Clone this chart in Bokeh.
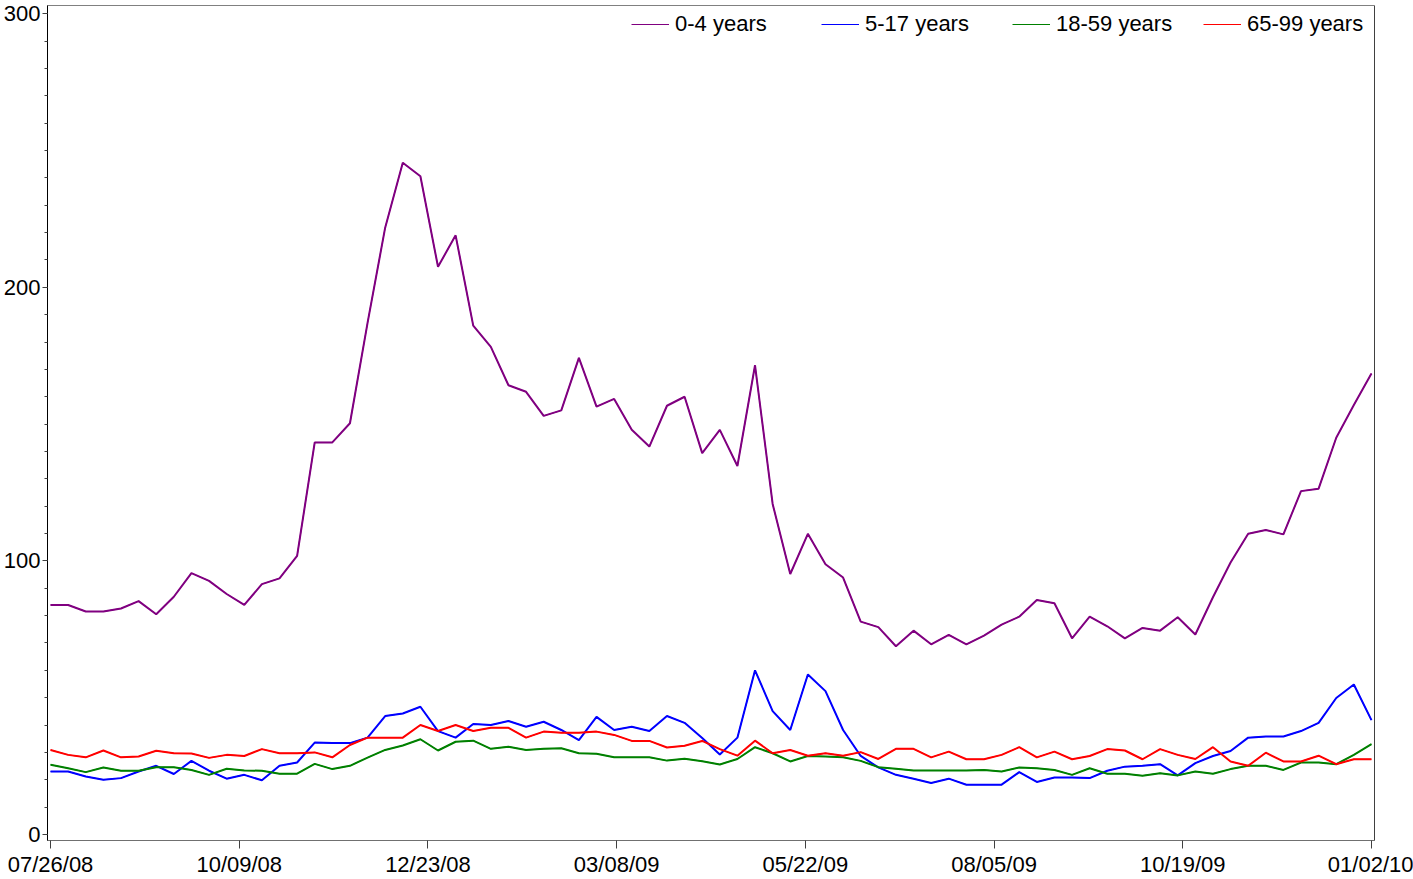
import pandas as pd
from bokeh.plotting import figure
from bokeh.models import (FixedTicker, DatetimeTickFormatter, Legend, LegendItem,
                          Range1d, Span, ColumnDataSource)
from bokeh.embed import file_html
from bokeh.resources import INLINE

# ---------------- data ----------------
first_week = "2008-07-26"
n_weeks = 76
tick_labels = ["07/26/08", "10/09/08", "12/23/08", "03/08/09", "05/22/09",
               "08/05/09", "10/19/09", "01/02/10"]
y_ticks = [0, 100, 200, 300]
y_minor_ticks = list(range(0, 301, 10))

series_names = ["0-4 years", "5-17 years", "18-59 years", "65-99 years"]
series_colors = ["#800080", "#0000FF", "#008000", "#FF0000"]

age_0_4 = [83.9, 83.9, 81.5, 81.5, 82.6, 85.3, 80.5, 86.9, 95.5, 92.7,
           87.9, 83.9, 91.5, 93.6, 101.8, 143.3, 143.3, 150.3, 187.0, 221.8,
           245.5, 240.6, 207.5, 219.0, 186.0, 178.2, 164.2, 161.8, 153.0, 155.0,
           174.2, 156.4, 159.2, 147.9, 141.8, 156.7, 160.0, 139.4, 147.9, 134.7,
           171.5, 120.8, 95.2, 109.9, 98.8, 93.9, 77.8, 75.8, 68.8, 74.5,
           69.5, 73.0, 69.5, 72.7, 76.7, 79.6, 85.7, 84.5, 71.7, 79.6,
           76.1, 71.7, 75.5, 74.5, 79.4, 73.1, 86.7, 99.4, 109.9, 111.3,
           109.7, 125.5, 126.4, 145.0, 157.0, 168.5]

age_5_17 = [23.0, 23.0, 21.2, 20.0, 20.6, 23.0, 25.1, 22.1, 26.9, 23.3,
            20.4, 21.8, 19.8, 25.1, 26.3, 33.6, 33.4, 33.4, 35.4, 43.3,
            44.2, 46.7, 37.8, 35.4, 40.4, 40.0, 41.5, 39.4, 41.2, 38.2,
            34.5, 43.0, 38.2, 39.4, 37.8, 43.3, 40.8, 35.3, 29.2, 35.4,
            60.0, 45.1, 38.2, 58.5, 52.4, 38.2, 28.7, 24.5, 21.8, 20.4,
            18.8, 20.4, 18.2, 18.2, 18.2, 22.8, 19.2, 20.8, 20.8, 20.6,
            23.3, 24.8, 25.1, 25.7, 21.6, 26.1, 28.7, 30.5, 35.4, 35.8,
            35.8, 37.8, 40.8, 49.9, 54.8, 41.8]

age_18_59 = [25.5, 24.2, 22.8, 24.5, 23.3, 23.3, 24.6, 24.6, 23.6, 21.8,
             24.0, 23.4, 23.3, 22.2, 22.2, 25.8, 23.9, 25.1, 28.1, 30.9,
             32.5, 34.8, 30.7, 33.9, 34.3, 31.3, 32.1, 30.9, 31.3, 31.5,
             29.7, 29.5, 28.2, 28.2, 28.2, 27.0, 27.7, 26.8, 25.6, 27.6,
             31.9, 29.7, 26.7, 28.7, 28.5, 28.2, 26.9, 24.6, 24.0, 23.4,
             23.4, 23.4, 23.4, 23.6, 23.0, 24.5, 24.2, 23.6, 21.8, 24.2,
             22.2, 22.2, 21.5, 22.4, 21.6, 23.0, 22.2, 23.9, 25.1, 25.1,
             23.6, 26.3, 26.3, 25.7, 29.1, 33.0]

age_65_99 = [30.9, 29.1, 28.2, 30.7, 28.2, 28.5, 30.6, 29.7, 29.6, 28.0,
             29.1, 28.7, 31.2, 29.7, 29.7, 30.0, 28.2, 32.7, 35.4, 35.4,
             35.4, 40.0, 37.8, 40.0, 37.8, 39.0, 39.0, 35.4, 37.6, 37.2,
             37.2, 37.6, 36.4, 34.2, 34.2, 31.8, 32.4, 34.2, 31.2, 28.8,
             34.3, 29.7, 30.9, 28.8, 29.7, 28.8, 30.1, 27.6, 31.3, 31.3,
             28.2, 30.3, 27.5, 27.5, 29.1, 31.9, 28.2, 30.3, 27.5, 28.7,
             31.2, 30.7, 27.5, 31.2, 29.1, 27.6, 31.9, 26.7, 25.1, 29.9,
             26.7, 26.7, 28.8, 25.7, 27.5, 27.5]

series_values = [age_0_4, age_5_17, age_18_59, age_65_99]

# ---------------- figure ----------------
dates = pd.date_range(first_week, periods=n_weeks, freq="7D")
tick_dates = pd.to_datetime(tick_labels, format="%m/%d/%y")
tick_ms = [t.value / 1e6 for t in tick_dates]

pad = pd.Timedelta(hours=29)
x_start = dates[0] - pad
x_end = dates[-1] + pad

W, H = 1413, 879
p = figure(width=W, height=H, x_axis_type="datetime",
           x_range=Range1d(start=x_start, end=x_end),
           y_range=Range1d(start=-2.2, end=303.0),
           output_backend="svg", toolbar_location=None,
           min_border_left=47, min_border_right=39,
           min_border_top=5, min_border_bottom=38)

p.xgrid.visible = False
p.ygrid.visible = False
p.background_fill_color = "white"
p.border_fill_color = "white"
p.outline_line_color = "#808080"

FONT = "Liberation Sans"
FS = "22px"
fmt = "%m/%d/%y"
p.xaxis.ticker = FixedTicker(ticks=tick_ms, minor_ticks=[])
p.xaxis.formatter = DatetimeTickFormatter(
    microseconds=fmt, milliseconds=fmt, seconds=fmt, minsec=fmt, minutes=fmt,
    hourmin=fmt, hours=fmt, days=fmt, months=fmt, years=fmt)
p.xaxis.major_tick_out = 8
p.xaxis.major_tick_in = 0
p.xaxis.minor_tick_out = 0
p.xaxis.minor_tick_in = 0
p.xaxis.axis_line_color = "#707070"
p.xaxis.major_tick_line_color = "#404040"
p.xaxis.major_label_standoff = 3
p.xaxis.major_label_text_font = FONT
p.xaxis.major_label_text_font_size = FS
p.xaxis.major_label_text_color = "black"

p.yaxis.ticker = FixedTicker(ticks=y_ticks, minor_ticks=y_minor_ticks)
p.yaxis.major_tick_out = 5
p.yaxis.major_tick_in = 0
p.yaxis.minor_tick_out = 3
p.yaxis.minor_tick_in = 0
p.yaxis.axis_line_color = "black"
p.yaxis.major_tick_line_color = "#404040"
p.yaxis.minor_tick_line_color = "#404040"
p.yaxis.major_label_standoff = 2
p.yaxis.major_label_text_font = FONT
p.yaxis.major_label_text_font_size = FS
p.yaxis.major_label_text_color = "black"

right_edge = Span(location=x_end.value / 1e6, dimension="height",
                  line_color="black", line_width=1)
p.add_layout(right_edge)

legend_renderers = []
for name, color, vals in zip(series_names, series_colors, series_values):
    src = ColumnDataSource(dict(date=dates, value=vals))
    p.line("date", "value", source=src, line_color=color, line_width=2)
    thin = p.line("date", "value", source=src, line_color=color, line_width=1)
    legend_renderers.append(thin)

legend_x = [584, 774, 965, 1156]
for name, r, lx in zip(series_names, legend_renderers, legend_x):
    leg = Legend(items=[LegendItem(label=name, renderers=[r])],
                 location=(lx, 803), orientation="horizontal",
                 border_line_color=None, background_fill_alpha=0,
                 padding=0, margin=0, spacing=0,
                 glyph_width=38, glyph_height=20, label_standoff=6,
                 label_text_font=FONT, label_text_font_size=FS,
                 label_text_color="black")
    p.add_layout(leg)

open("out.html", "w").write(file_html(p, INLINE))
